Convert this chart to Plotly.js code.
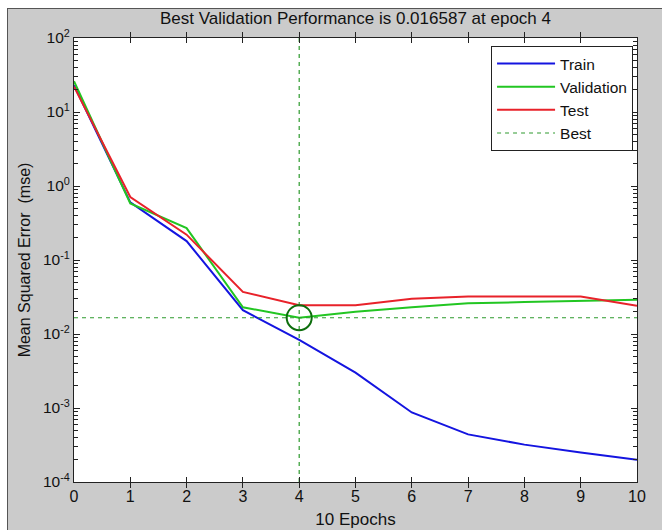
<!DOCTYPE html>
<html>
<head>
<meta charset="utf-8">
<script src="https://cdn.plot.ly/plotly-3.0.1.min.js"></script>
<style>
html,body{margin:0;padding:0;background:#ffffff;width:662px;height:530px;overflow:hidden;}
#frame{position:absolute;left:7px;top:8px;width:655px;height:522px;border-left:1px solid #555;border-top:1px solid #555;box-sizing:border-box;}
#chart{width:654px;height:521px;}
</style>
</head>
<body>
<div id="frame"><div id="chart"></div></div>
<script>
const epochs = [0,1,2,3,4,5,6,7,8,9,10];
const trainPerf = [23, 0.60, 0.18, 0.021, 0.0083, 0.0030, 0.00087, 0.00044, 0.00032, 0.00025, 0.00020];
const valPerf   = [26, 0.58, 0.27, 0.023, 0.016587, 0.020, 0.023, 0.026, 0.027, 0.028, 0.029];
const testPerf  = [22, 0.71, 0.22, 0.037, 0.0245, 0.0245, 0.030, 0.032, 0.032, 0.032, 0.024];
const bestEpoch = 4;
const bestPerf = 0.016587;
const xRange = [0, 10];
const yLimits = [1e-4, 1e2];
const yTickVals = [1e-4, 1e-3, 1e-2, 1e-1, 1e0, 1e1, 1e2];
const yTickText = ['10<sup>-4</sup>', '10<sup>-3</sup>', '10<sup>-2</sup>', '10<sup>-1</sup>', '10<sup>0</sup>', '10<sup>1</sup>', '10<sup>2</sup>'];
const titleText = 'Best Validation Performance is 0.016587 at epoch 4';
const xTitle = '10 Epochs';
const yTitle = 'Mean Squared Error  (mse)';

// minor log ticks 2..9 within each decade
const yMinorVals = [];
for (let i = 0; i < yTickVals.length - 1; i++) {
  for (let k = 2; k <= 9; k++) yMinorVals.push(yTickVals[i] * k);
}

const font = 'Liberation Sans, Arial, sans-serif';
const bestColor = '#2e9a2e';
const yRangeLog = [Math.log10(yLimits[0]), Math.log10(yLimits[1])];

const traces = [
  {x: epochs, y: trainPerf, name: 'Train', mode: 'lines', line: {color: '#1414e0', width: 2}},
  {x: epochs, y: valPerf, name: 'Validation', mode: 'lines', line: {color: '#22c622', width: 2}},
  {x: epochs, y: testPerf, name: 'Test', mode: 'lines', line: {color: '#e8222a', width: 2}},
  {x: xRange, y: [bestPerf, bestPerf], name: 'Best', mode: 'lines', line: {color: bestColor, width: 1.2, dash: '4px,4px'}},
  {x: [bestEpoch, bestEpoch], y: yLimits, name: 'Best', mode: 'lines', showlegend: false, line: {color: bestColor, width: 1.2, dash: '4px,4px'}},
  {x: [bestEpoch], y: [bestPerf], mode: 'markers', showlegend: false, marker: {symbol: 'circle-open', size: 25, color: '#0d6e0d', line: {width: 2, color: '#0d6e0d'}}},
  // invisible trace to activate the minor-tick axis
  {x: xRange, y: yLimits, yaxis: 'y2', mode: 'lines', showlegend: false, hoverinfo: 'skip', line: {width: 0, color: 'rgba(0,0,0,0)'}}
];

const layout = {
  width: 654, height: 521,
  paper_bgcolor: '#cbcbcb',
  plot_bgcolor: '#ffffff',
  margin: {l: 66, r: 25, t: 29, b: 48},
  font: {family: font, size: 15, color: '#111'},
  title: {text: titleText, font: {family: font, size: 17, color: '#111'}, x: 0.5, xref: 'paper', y: 0.982, yref: 'container', yanchor: 'middle'},
  xaxis: {
    range: xRange, dtick: 1, tick0: 0,
    showgrid: false, zeroline: false,
    showline: true, linecolor: '#222', linewidth: 1, mirror: 'allticks',
    ticks: 'inside', ticklen: 5, tickcolor: '#222',
    tickfont: {size: 16, color: '#111'},
    title: {text: xTitle, font: {size: 17, color: '#111'}, standoff: 8}
  },
  yaxis: {
    type: 'log', range: yRangeLog,
    tickmode: 'array', tickvals: yTickVals, ticktext: yTickText,
    showgrid: false, zeroline: false,
    showline: true, linecolor: '#222', linewidth: 1, mirror: 'allticks',
    ticks: 'inside', ticklen: 6, tickcolor: '#222',
    tickfont: {size: 15.5, color: '#111'},
    title: {text: yTitle, font: {size: 16, color: '#111'}, standoff: 8}
  },
  yaxis2: {
    type: 'log', range: yRangeLog, overlaying: 'y', side: 'left',
    tickmode: 'array', tickvals: yMinorVals, showticklabels: false,
    showgrid: false, zeroline: false, showline: true, linecolor: '#222', linewidth: 1, mirror: 'allticks',
    ticks: 'inside', ticklen: 4, tickwidth: 1, tickcolor: '#222'
  },
  legend: {
    x: 0.993, xanchor: 'right', y: 0.982, yanchor: 'top',
    bgcolor: '#ffffff', bordercolor: '#222', borderwidth: 1,
    font: {size: 15.5, color: '#111'},
    itemwidth: 58, tracegroupgap: 0
  },
  showlegend: true
};

Plotly.newPlot('chart', traces, layout, {displayModeBar: false, staticPlot: true});
</script>
</body>
</html>
